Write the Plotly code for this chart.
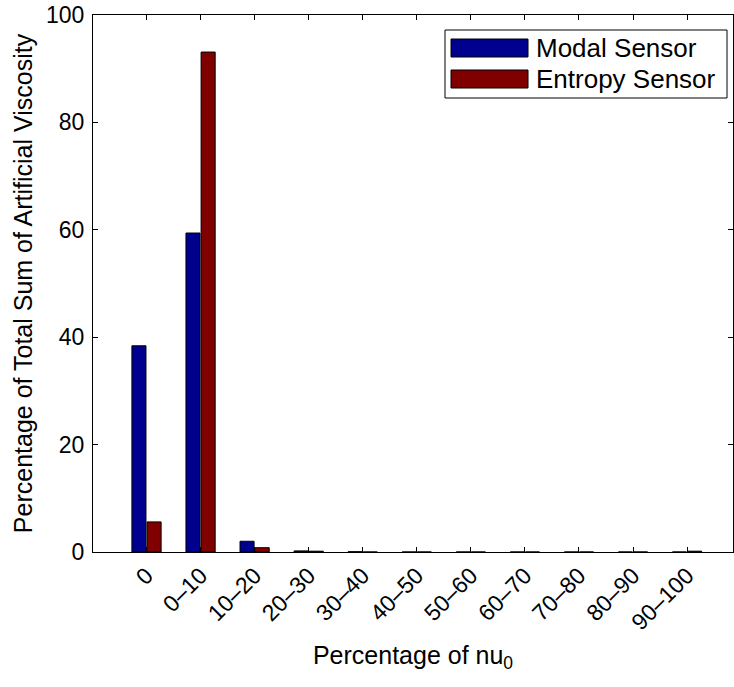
import plotly.graph_objects as go

categories = ["0", "0–10", "10–20", "20–30", "30–40", "40–50", "50–60",
              "60–70", "70–80", "80–90", "90–100"]
modal = [38.4, 59.4, 2.0, 0.2, 0.05, 0.0, 0.0, 0.0, 0.0, 0.0, 0.0]
entropy = [5.6, 93.1, 0.8, 0.15, 0.0, 0.0, 0.0, 0.0, 0.0, 0.0, 0.15]
series_names = ["Modal Sensor", "Entropy Sensor"]
colors = ["#00008F", "#800000"]

FONT = "Liberation Sans, Arial, Helvetica, sans-serif"
TICK_FS = 23
TITLE_FS = 25
LEG_FS = 26

L, R, T, B = 93, 1, 15, 135
W, H = 734, 687

fig = go.Figure()
for name, vals, col in zip(series_names, [modal, entropy], colors):
    fig.add_trace(go.Bar(
        x=categories, y=vals, name=name,
        marker=dict(color=col, line=dict(color="black", width=1)),
        showlegend=False,
    ))

fig.update_layout(
    width=W, height=H,
    margin=dict(l=L, r=R, t=T, b=B),
    paper_bgcolor="white", plot_bgcolor="white",
    barmode="group", bargap=0.44, bargroupgap=0.07,
    font=dict(family=FONT, size=TICK_FS, color="black"),
    xaxis=dict(
        range=[-0.99, 10.85],
        showline=True, linecolor="black", linewidth=1, mirror="ticks",
        ticks="inside", ticklen=5, tickcolor="black",
        tickangle=-45, tickfont=dict(size=TICK_FS),
        title=dict(text="Percentage of nu<sub>0</sub>", font=dict(size=TITLE_FS), standoff=12),
        showgrid=False, zeroline=False,
    ),
    yaxis=dict(
        range=[0, 100], tickvals=[0, 20, 40, 60, 80, 100],
        showline=True, linecolor="black", linewidth=1, mirror="ticks",
        ticks="inside", ticklen=5, tickcolor="black",
        tickfont=dict(size=TICK_FS), ticklabelstandoff=3,
        title=dict(text="Percentage of Total Sum of Artificial Viscosity", font=dict(size=TITLE_FS), standoff=6),
        showgrid=False, zeroline=False,
    ),
)

# Custom legend (MATLAB style) drawn in pixel-based paper coordinates
pw, ph = W - L - R, H - T - B
def px(x):
    return (x - L) / pw
def py(y):
    return 1 - (y - T) / ph

fig.add_shape(type="rect", xref="paper", yref="paper",
              x0=px(445), x1=px(727), y0=py(98), y1=py(30),
              line=dict(color="black", width=1), fillcolor="white", layer="above")
for i, (name, col) in enumerate(zip(series_names, colors)):
    yc = 48 + i * 31
    fig.add_shape(type="rect", xref="paper", yref="paper",
                  x0=px(451), x1=px(528), y0=py(yc + 9), y1=py(yc - 9),
                  line=dict(color="black", width=1), fillcolor=col, layer="above")
    fig.add_annotation(xref="paper", yref="paper", x=px(534), y=py(yc),
                       text=name, showarrow=False, xanchor="left", yanchor="middle",
                       font=dict(family=FONT, size=LEG_FS, color="black"))

fig.write_html("out.html")
